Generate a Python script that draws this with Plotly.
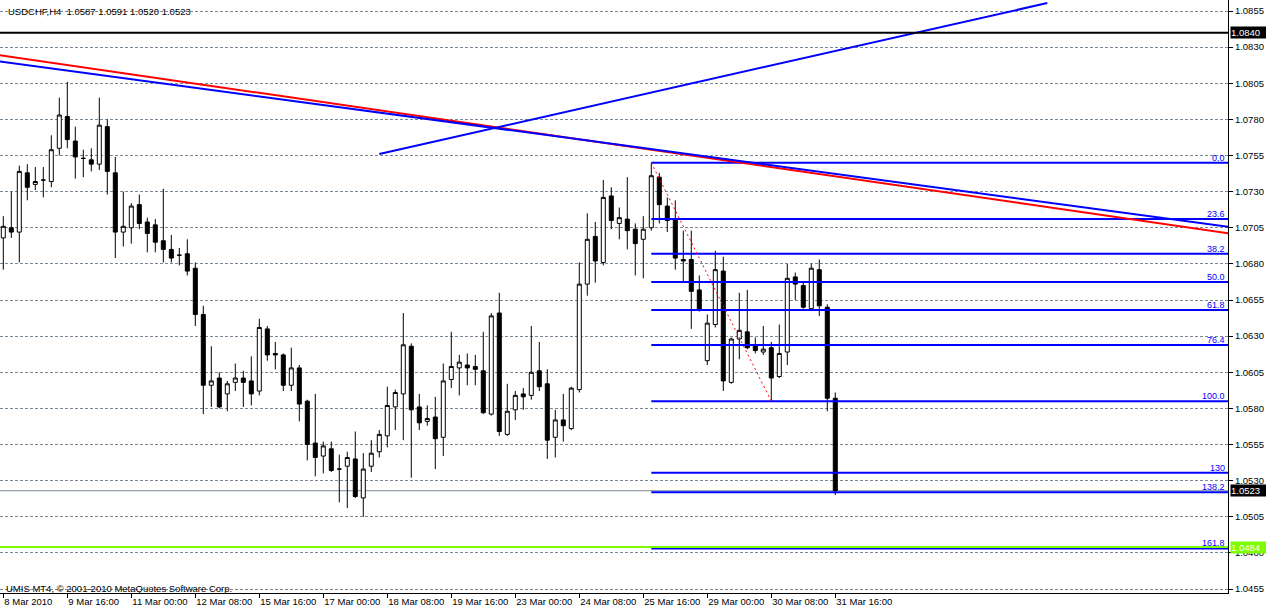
import plotly.graph_objects as go

# ---------------- data ----------------
bar_index = list(range(105))
opens = [1.0698, 1.0705, 1.0702, 1.0743, 1.0735, 1.0738, 1.0737, 1.0760, 1.0782, 1.0765,
         1.0753, 1.0752, 1.0749, 1.0775, 1.0743, 1.0702, 1.0705, 1.0721, 1.0709, 1.0707,
         1.0696, 1.0690, 1.0686, 1.0687, 1.0677, 1.0645, 1.0596, 1.0601, 1.0590, 1.0598,
         1.0601, 1.0599, 1.0592, 1.0635, 1.0618, 1.0617, 1.0596, 1.0608, 1.0585, 1.0556,
         1.0547, 1.0552, 1.0538, 1.0540, 1.0545, 1.0518, 1.0540, 1.0550, 1.0561, 1.0581,
         1.0590, 1.0623, 1.0581, 1.0571, 1.0574, 1.0560, 1.0600, 1.0608, 1.0610, 1.0609,
         1.0606, 1.0576, 1.0646, 1.0562, 1.0579, 1.0590, 1.0589, 1.0606, 1.0597, 1.0560,
         1.0572, 1.0566, 1.0593, 1.0666, 1.0699, 1.0681, 1.0727, 1.0708, 1.0711, 1.0704,
         1.0697, 1.0705, 1.0740, 1.0720, 1.0711, 1.0683, 1.0683, 1.0662, 1.0613, 1.0638,
         1.0675, 1.0598, 1.0628, 1.0633, 1.0624, 1.0619, 1.0622, 1.0602, 1.0619, 1.0671,
         1.0665, 1.0649, 1.0676, 1.0650, 1.0587]
highs = [1.0713, 1.0730, 1.0748, 1.0749, 1.0747, 1.0747, 1.0769, 1.0795, 1.0806, 1.0775,
         1.0759, 1.0760, 1.0795, 1.0780, 1.0754, 1.0730, 1.0722, 1.0728, 1.0712, 1.0711,
         1.0732, 1.0700, 1.0691, 1.0697, 1.0681, 1.0651, 1.0623, 1.0605, 1.0599, 1.0611,
         1.0606, 1.0616, 1.0642, 1.0637, 1.0626, 1.0618, 1.0622, 1.0610, 1.0586, 1.0590,
         1.0557, 1.0557, 1.0548, 1.0550, 1.0564, 1.0549, 1.0558, 1.0565, 1.0595, 1.0593,
         1.0646, 1.0625, 1.0590, 1.0582, 1.0588, 1.0611, 1.0633, 1.0617, 1.0618, 1.0617,
         1.0633, 1.0646, 1.0660, 1.0597, 1.0592, 1.0594, 1.0637, 1.0626, 1.0607, 1.0579,
         1.0590, 1.0595, 1.0681, 1.0715, 1.0709, 1.0738, 1.0733, 1.0719, 1.0740, 1.0708,
         1.0713, 1.0750, 1.0743, 1.0726, 1.0724, 1.0703, 1.0703, 1.0672, 1.0645, 1.0689,
         1.0685, 1.0629, 1.0660, 1.0662, 1.0629, 1.0637, 1.0626, 1.0638, 1.0680, 1.0674,
         1.0668, 1.0680, 1.0683, 1.0652, 1.0591]
lows = [1.0676, 1.0698, 1.0681, 1.0724, 1.0731, 1.0726, 1.0733, 1.0755, 1.0760, 1.0739,
        1.0740, 1.0744, 1.0745, 1.0728, 1.0684, 1.0692, 1.0694, 1.0704, 1.0688, 1.0688,
        1.0681, 1.0681, 1.0679, 1.0672, 1.0637, 1.0576, 1.0581, 1.0580, 1.0578, 1.0592,
        1.0581, 1.0582, 1.0589, 1.0613, 1.0607, 1.0592, 1.0592, 1.0571, 1.0544, 1.0533,
        1.0535, 1.0536, 1.0515, 1.0511, 1.0518, 1.0505, 1.0536, 1.0546, 1.0553, 1.0565,
        1.0558, 1.0532, 1.0565, 1.0568, 1.0538, 1.0547, 1.0594, 1.0589, 1.0596, 1.0596,
        1.0576, 1.0575, 1.0561, 1.0561, 1.0572, 1.0579, 1.0586, 1.0592, 1.0545, 1.0546,
        1.0557, 1.0565, 1.0591, 1.0658, 1.0667, 1.0679, 1.0704, 1.0697, 1.0690, 1.0672,
        1.0670, 1.0703, 1.0708, 1.0702, 1.0676, 1.0667, 1.0635, 1.0647, 1.0610, 1.0636,
        1.0592, 1.0597, 1.0614, 1.0621, 1.0618, 1.0617, 1.0585, 1.0601, 1.0610, 1.0655,
        1.0649, 1.0648, 1.0644, 1.0578, 1.0520]
closes = [1.0706, 1.0702, 1.0744, 1.0733, 1.0737, 1.0738, 1.0759, 1.0783, 1.0766, 1.0754,
          1.0753, 1.0749, 1.0776, 1.0744, 1.0702, 1.0706, 1.0720, 1.0708, 1.0701, 1.0695,
          1.0690, 1.0684, 1.0686, 1.0675, 1.0645, 1.0596, 1.0599, 1.0581, 1.0597, 1.0601,
          1.0598, 1.0590, 1.0636, 1.0617, 1.0617, 1.0596, 1.0608, 1.0583, 1.0555, 1.0546,
          1.0554, 1.0537, 1.0538, 1.0546, 1.0519, 1.0538, 1.0549, 1.0562, 1.0582, 1.0591,
          1.0624, 1.0579, 1.0570, 1.0573, 1.0559, 1.0599, 1.0609, 1.0612, 1.0608, 1.0607,
          1.0577, 1.0644, 1.0564, 1.0578, 1.0589, 1.0588, 1.0605, 1.0595, 1.0558, 1.0572,
          1.0568, 1.0594, 1.0666, 1.0697, 1.0682, 1.0726, 1.0710, 1.0712, 1.0703, 1.0694,
          1.0704, 1.0741, 1.0721, 1.0710, 1.0684, 1.0682, 1.0661, 1.0648, 1.0639, 1.0676,
          1.0599, 1.0628, 1.0634, 1.0622, 1.0620, 1.0621, 1.0601, 1.0618, 1.0670, 1.0666,
          1.0650, 1.0677, 1.0651, 1.0587, 1.0523]

time_tick_bars = [0, 8, 16, 24, 32, 40, 48, 56, 64, 72, 80, 88, 96, 104]
time_tick_labels = ["8 Mar 2010", "9 Mar 16:00", "11 Mar 00:00", "12 Mar 08:00",
                    "15 Mar 16:00", "17 Mar 00:00", "18 Mar 08:00", "19 Mar 16:00",
                    "23 Mar 00:00", "24 Mar 08:00", "25 Mar 16:00", "29 Mar 00:00",
                    "30 Mar 08:00", "31 Mar 16:00"]
grid_bars = [4 * k for k in range(1, 39)]

price_ticks = [1.0455, 1.0480, 1.0505, 1.0530, 1.0555, 1.0580, 1.0605, 1.0630, 1.0655,
               1.0680, 1.0705, 1.0730, 1.0755, 1.0780, 1.0805, 1.0830, 1.0855]
price_tick_labels = ["1.0455", "1.0480", "1.0505", "1.0530", "1.0555", "1.0580", "1.0605",
                     "1.0630", "1.0655", "1.0680", "1.0705", "1.0730", "1.0755", "1.0780",
                     "1.0805", "1.0830", "1.0855"]

# trend lines (bar index, price)
red_trend_bars = [-1, 154]
red_trend_prices = [1.08248, 1.07005]
blue_trend_bars = [-1, 154]
blue_trend_prices = [1.08205, 1.07050]
blue_rise_bars = [47.0, 130.5]
blue_rise_prices = [1.0756, 1.08605]

# fibonacci retracement
fib_high_bar, fib_high = 81, 1.0750
fib_low_bar, fib_low = 96, 1.0585
fib_end_bar = 154
fib_levels = [0.0, 23.6, 38.2, 50.0, 61.8, 76.4, 100.0, 130.0, 138.2, 161.8]
fib_labels = ["0.0", "23.6", "38.2", "50.0", "61.8", "76.4", "100.0", "130", "138.2", "161.8"]

level_black = 1.0840
level_bid = 1.0523
level_green = 1.0484

title_text = "USDCHF,H4  1.0587 1.0591 1.0520 1.0523"
copyright_text = "UMIS MT4, \u00a9 2001-2010 MetaQuotes Software Corp."

# ---------------- figure ----------------
FONT = "Liberation Sans, Arial, sans-serif"
GRID = "#778899"
X_RANGE = [-0.4125, 153.09]
Y_RANGE = [1.045223, 1.086261]

fig = go.Figure()

fig.add_trace(go.Candlestick(
    x=bar_index, open=opens, high=highs, low=lows, close=closes,
    increasing=dict(line=dict(color="black", width=1), fillcolor="white"),
    decreasing=dict(line=dict(color="black", width=1), fillcolor="black"),
    whiskerwidth=0, hoverinfo="skip", showlegend=False))

# fib lines
fib_prices = [fib_high - lv / 100.0 * (fib_high - fib_low) for lv in fib_levels]
fx, fy = [], []
for p in fib_prices:
    fx += [fib_high_bar, fib_end_bar, None]
    fy += [p, p, None]
fig.add_trace(go.Scatter(x=fx, y=fy, mode="lines", line=dict(color="#0000FF", width=2),
                         hoverinfo="skip", showlegend=False))
# fib trend (dotted red)
fig.add_trace(go.Scatter(x=[fib_high_bar, fib_low_bar], y=[fib_high, fib_low], mode="lines",
                         line=dict(color="#FF0000", width=1, dash="2px,3px"),
                         hoverinfo="skip", showlegend=False))

# trend lines
fig.add_trace(go.Scatter(x=red_trend_bars, y=red_trend_prices, mode="lines",
                         line=dict(color="#FF0000", width=2), hoverinfo="skip", showlegend=False))
fig.add_trace(go.Scatter(x=blue_trend_bars, y=blue_trend_prices, mode="lines",
                         line=dict(color="#0000FF", width=2), hoverinfo="skip", showlegend=False))
fig.add_trace(go.Scatter(x=blue_rise_bars, y=blue_rise_prices, mode="lines",
                         line=dict(color="#0000FF", width=2), hoverinfo="skip", showlegend=False))

# horizontal levels
shapes = [
    dict(type="line", xref="paper", x0=0, x1=1, yref="y", y0=level_bid, y1=level_bid,
         line=dict(color=GRID, width=1), layer="below"),
    dict(type="line", xref="paper", x0=0, x1=1, yref="y", y0=level_black, y1=level_black,
         line=dict(color="black", width=2)),
    dict(type="line", xref="paper", x0=0, x1=1, yref="y", y0=level_green, y1=level_green,
         line=dict(color="#7CFC00", width=2)),
]

annotations = []
for p, lab in zip(fib_prices, fib_labels):
    annotations.append(dict(xref="paper", x=1, xanchor="right", xshift=-2,
                            yref="y", y=p, yanchor="bottom", yshift=-1,
                            text=lab, showarrow=False, borderpad=0,
                            font=dict(family=FONT, size=9, color="#0000FF")))
for p, bg in [(level_black, "black"), (level_bid, "black"), (level_green, "#7CFC00")]:
    annotations.append(dict(xref="paper", x=1, xanchor="left", xshift=2,
                            yref="y", y=p, yanchor="middle",
                            text="%.4f" % p, showarrow=False, bgcolor=bg, borderpad=0,
                            width=35, height=11, align="left",
                            font=dict(family=FONT, size=9.5, color="white")))
annotations.append(dict(xref="paper", x=7 / 1228, xanchor="left", yref="paper", y=1, yshift=-11,
                        yanchor="middle", text=title_text, showarrow=False, borderpad=0,
                        font=dict(family=FONT, size=9.5, color="black")))
annotations.append(dict(xref="paper", x=5 / 1228, xanchor="left", yref="paper", y=0, yshift=5,
                        yanchor="middle", text=copyright_text, showarrow=False, borderpad=0,
                        font=dict(family=FONT, size=9.5, color="black")))

fig.update_layout(
    width=1266, height=614,
    margin=dict(l=0, r=38, t=0, b=21, pad=0, autoexpand=False),
    paper_bgcolor="white", plot_bgcolor="white",
    showlegend=False, boxgap=0.5, boxgroupgap=0,
    shapes=shapes, annotations=annotations,
    xaxis=dict(range=X_RANGE, tickmode="array", tickvals=time_tick_bars, ticktext=time_tick_labels,
               ticks="outside", ticklen=4, tickcolor="black", tickwidth=1, tickangle=0,
               ticklabelposition="outside right", automargin=False,
               showline=True, linecolor="black", linewidth=1, showgrid=False, zeroline=False,
               tickfont=dict(family=FONT, size=9.5, color="black"),
               rangeslider=dict(visible=False), fixedrange=True),
    xaxis2=dict(range=X_RANGE, overlaying="x", matches="x", tickmode="array", tickvals=grid_bars,
                showticklabels=False, ticks="", showgrid=True, gridcolor=GRID, gridwidth=1,
                griddash="3px,2px", zeroline=False, showline=False),
    yaxis=dict(range=Y_RANGE, side="right", tickmode="array", tickvals=price_ticks,
               ticktext=price_tick_labels, ticks="outside", ticklen=4, tickcolor="black",
               showline=True, linecolor="black", linewidth=1, showgrid=True, gridcolor=GRID,
               gridwidth=1, griddash="3px,2px", zeroline=False, automargin=False,
               tickfont=dict(family=FONT, size=9.5, color="black"), fixedrange=True),
)

fig.write_html("out.html", config={"displayModeBar": False},
               post_script="document.body.style.margin='0';document.body.style.overflow='hidden';")
